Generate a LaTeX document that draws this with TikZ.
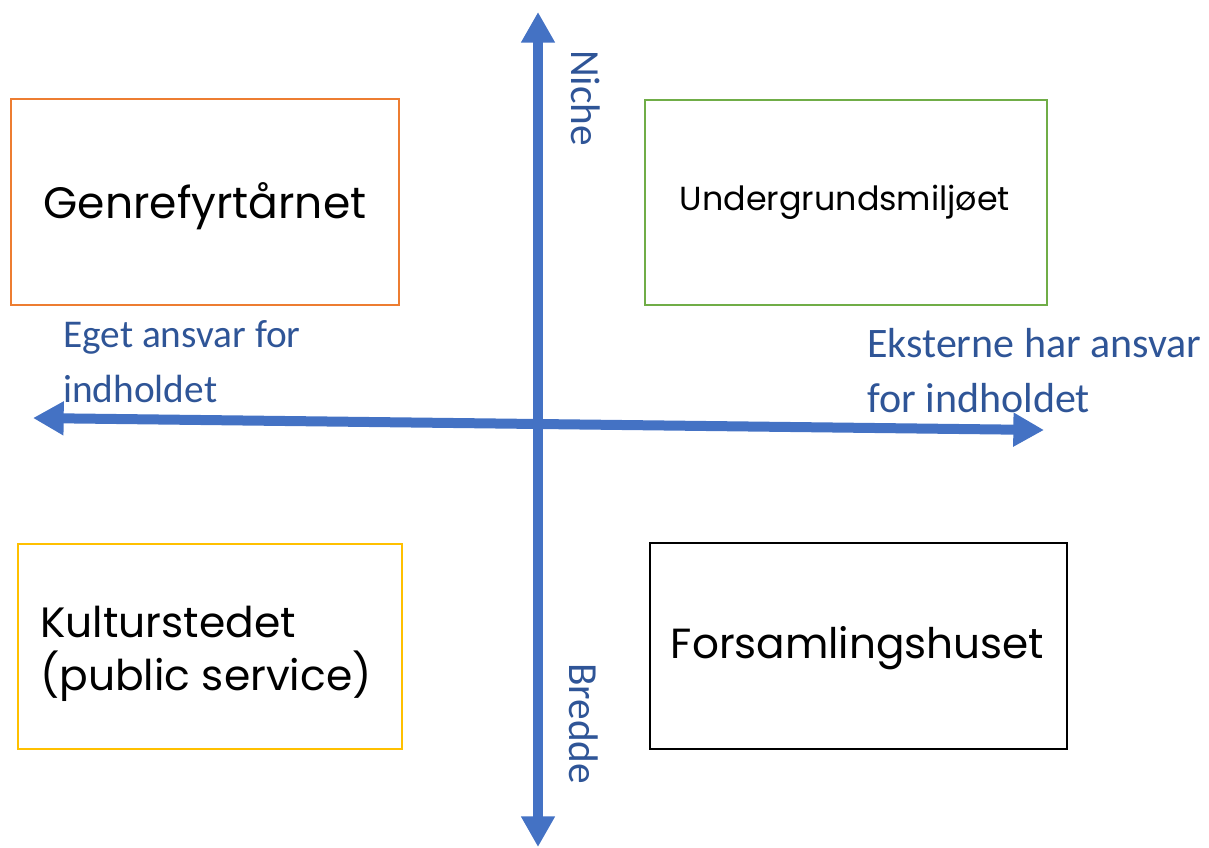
\documentclass[tikz,border=0pt]{standalone}
\usepackage{fontspec}
\setmainfont{Carlito}
\newfontfamily\boxfont{Poppins}
\usetikzlibrary{arrows.meta}
\definecolor{axisblue}{HTML}{4472C4}
\definecolor{labelblue}{HTML}{2F5597}
\definecolor{qorange}{HTML}{ED7D31}
\definecolor{qgreen}{HTML}{70AD47}
\definecolor{qyellow}{HTML}{FFC000}
\begin{document}
\begin{tikzpicture}[x=0.75pt,y=-0.75pt,
  quad/.style={draw=#1, line width=1.5pt, anchor=north west, inner sep=0pt},
  bigtext/.style={font=\boxfont\fontsize{33}{40.5}\selectfont, text=black, inner sep=0pt},
  axislabel/.style={font=\fontsize{29.5}{41.25}\selectfont, text=labelblue, inner sep=0pt, align=left},
  axis/.style={draw=axisblue, line width=7.5pt, {Triangle[length=23pt,width=24pt]}-{Triangle[length=23pt,width=24pt]}}
]
\useasboundingbox (0,0) rectangle (1209,847);
% boxes
\node[quad=qorange, minimum width=291pt, minimum height=154.5pt] (genre) at (10,98) {};
\node[quad=qgreen, minimum width=301.5pt, minimum height=153.75pt] (under) at (644,99) {};
\node[quad=qyellow, minimum width=288pt, minimum height=153.75pt] (kultur) at (17,543) {};
\node[quad=black, minimum width=312.75pt, minimum height=154.5pt] (forsam) at (649,542) {};
% box texts
\node[bigtext, anchor=base] (genreT) at (205,218) {Genrefyrtårnet};
\node[bigtext, anchor=base, font=\boxfont\fontsize{25}{30}\selectfont] (underT) at (845,210) {Undergrundsmiljøet};
\node[bigtext, anchor=base west, align=left, font=\boxfont\fontsize{31.8}{39.75}\selectfont] (kulturT) at (40,690) {Kulturstedet\\(public service)};
\node[bigtext, anchor=base, font=\boxfont\fontsize{31.6}{39.75}\selectfont] (forsamT) at (857.5,658) {Forsamlingshuset};
% axes
\coordinate (top) at (538,12);
\coordinate (bottom) at (538,847);
\coordinate (left) at (33,418);
\coordinate (right) at (1044,430);
\draw[axis] (bottom) -- (top);
\draw[axis] (left) -- (right);
% axis labels
\node[axislabel, anchor=base west] (egen) at (63,402) {Eget ansvar for\\indholdet};
\node[axislabel, anchor=base west, font=\fontsize{31.5}{41.25}\selectfont] (ekst) at (867,412) {Eksterne har ansvar\\for indholdet};
\node[axislabel, rotate=-90, anchor=base west, font=\fontsize{31}{41.25}\selectfont] (niche) at (571,50) {Niche};
\node[axislabel, rotate=-90, anchor=base west, font=\fontsize{31}{41.25}\selectfont] (bredde) at (569,663) {Bredde};
\end{tikzpicture}
\end{document}
